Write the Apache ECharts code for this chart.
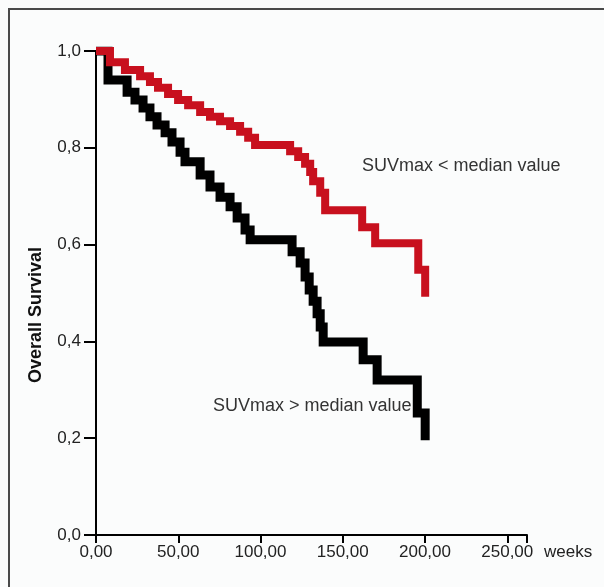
<!DOCTYPE html>
<html>
<head>
<meta charset="utf-8">
<script src="https://cdn.jsdelivr.net/npm/echarts@6/dist/echarts.min.js"></script>
<style>
    html, body { margin: 0; padding: 0; background: #fff; }
    #chart { position: absolute; left: 0; top: 0; width: 604px; height: 587px; }
    #frame { position: absolute; left: 8px; top: 8px; width: 620px; height: 620px;
             border: 2px solid #4a4a4a; pointer-events: none; }
</style>
</head>
<body>
<div id="chart"></div>
<div id="frame"></div>
<script>
    // weeks / survival, stepwise Kaplan-Meier (value holds until next time)
    var lowWeeks = [0, 8.5, 17.6, 26.8, 32.8, 37.7, 43.8, 49.9, 56, 63.3, 69.3, 75.4, 81.5, 87.6, 92.5, 96.7,
        118, 122.9, 127.1, 130.2, 132, 136.3, 139.3, 161.8, 169.7, 195.9, 200.1];
    var lowSurv = [1.0, 0.977, 0.961, 0.948, 0.936, 0.924, 0.911, 0.899, 0.888, 0.874, 0.864, 0.855, 0.845, 0.833, 0.821, 0.806,
        0.793, 0.781, 0.767, 0.75, 0.731, 0.707, 0.671, 0.636, 0.603, 0.548, 0.492];

    var highWeeks = [0, 7.3, 18.9, 23.7, 28.6, 32.8, 37.1, 42, 46.2, 51.1, 54.1, 63.3, 69.3, 75.4, 81.5, 85.8, 90.6, 93.7,
        119.2, 124.1, 127.1, 129.6, 132, 134.4, 136.3, 138.1, 162.4, 170.9, 195.3, 200.1];
    var highSurv = [1.0, 0.94, 0.915, 0.899, 0.882, 0.864, 0.847, 0.831, 0.812, 0.791, 0.771, 0.744, 0.719, 0.698, 0.678, 0.655, 0.63, 0.61,
        0.585, 0.562, 0.533, 0.506, 0.483, 0.457, 0.43, 0.399, 0.362, 0.32, 0.252, 0.196];

    var xTicks = [0, 50, 100, 150, 200, 250];
    var yTicks = [0, 0.2, 0.4, 0.6, 0.8, 1.0];

    function pairs(xs, ys) {
        var out = [];
        for (var i = 0; i < xs.length; i++) out.push([xs[i], ys[i]]);
        return out;
    }

    var font = 'Liberation Sans, Arial, sans-serif';
    var chart = echarts.init(document.getElementById('chart'));

    chart.setOption({
        backgroundColor: '#fbfcfc',
        animation: false,
        grid: { left: 96, top: 51, width: 431, height: 484, containLabel: false },
        xAxis: {
            type: 'value', min: 0, max: 262, interval: 50,
            name: 'weeks', nameLocation: 'end', nameGap: 17,
            nameTextStyle: { color: '#222', fontFamily: font, fontSize: 17, align: 'left', verticalAlign: 'top', padding: [9, 0, 0, 0] },
            splitLine: { show: false },
            axisLine: { lineStyle: { color: '#000', width: 2 } },
            axisTick: { inside: false, length: 8, lineStyle: { color: '#000', width: 2 } },
            axisLabel: {
                color: '#222', fontFamily: font, fontSize: 17, margin: 9,
                formatter: function (v) { return xTicks.indexOf(v) >= 0 ? v.toFixed(2).replace('.', ',') : ''; }
            }
        },
        yAxis: {
            type: 'value', min: 0, max: 1, interval: 0.2,
            splitLine: { show: false },
            axisLine: { lineStyle: { color: '#000', width: 2 } },
            axisTick: { inside: false, length: 12, lineStyle: { color: '#000', width: 2 } },
            axisLabel: {
                color: '#222', fontFamily: font, fontSize: 17, margin: 15,
                formatter: function (v) { return v.toFixed(1).replace('.', ','); }
            }
        },
        graphic: [
            { type: 'text', x: 36, y: 315, rotation: Math.PI / 2,
              style: { text: 'Overall Survival', fill: '#111', font: 'bold 18px ' + font, align: 'center', verticalAlign: 'middle' } },
            { type: 'text', left: 362, top: 157, style: { text: 'SUVmax < median value', fill: '#333', font: '18px ' + font } },
            { type: 'text', left: 213, top: 397, style: { text: 'SUVmax > median value', fill: '#333', font: '18px ' + font } }
        ],
        series: [
            {
                name: 'SUVmax > median value', type: 'line', step: 'end', showSymbol: false,
                data: pairs(highWeeks, highSurv),
                lineStyle: { color: '#000', width: 9, join: 'miter' }
            },
            {
                name: 'SUVmax < median value', type: 'line', step: 'end', showSymbol: false,
                data: pairs(lowWeeks, lowSurv),
                lineStyle: { color: '#c8101e', width: 8, join: 'miter' }
            }
        ]
    });
</script>
</body>
</html>
